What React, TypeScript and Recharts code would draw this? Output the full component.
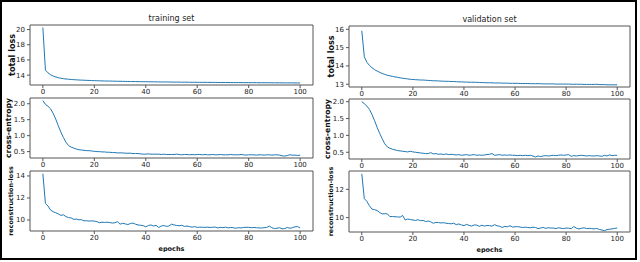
import React from 'react';
import { LineChart, Line, XAxis, YAxis, ReferenceArea } from 'recharts';

// epoch-by-epoch values (epochs 0..100)
const trainTotal = [
  20.26, 14.66, 14.3, 14.05, 13.88, 13.76, 13.66, 13.59, 13.53, 13.49, 13.46, 13.43, 13.4, 13.38, 13.36, 13.34, 13.33, 13.31, 13.3, 13.28,
  13.27, 13.26, 13.25, 13.24, 13.23, 13.22, 13.22, 13.21, 13.2, 13.19, 13.19, 13.18, 13.17, 13.17, 13.16, 13.16, 13.15, 13.15, 13.14, 13.14,
  13.13, 13.13, 13.12, 13.12, 13.11, 13.11, 13.1, 13.1, 13.1, 13.09, 13.09, 13.08, 13.08, 13.08, 13.07, 13.07, 13.07, 13.06, 13.06, 13.06,
  13.05, 13.05, 13.05, 13.05, 13.04, 13.04, 13.04, 13.04, 13.03, 13.03, 13.03, 13.03, 13.03, 13.02, 13.02, 13.02, 13.02, 13.02, 13.01, 13.01,
  13.01, 13.01, 13.01, 13.01, 13.0, 13.0, 13.0, 13.0, 13.0, 12.99, 12.99, 12.99, 12.99, 12.99, 12.98, 12.98, 12.98, 12.98, 12.97, 12.97,
  12.97,
];

const validTotal = [
  15.92, 14.5, 14.2, 14.03, 13.9, 13.8, 13.72, 13.65, 13.59, 13.54, 13.49, 13.46, 13.43, 13.4, 13.38, 13.35, 13.33, 13.31, 13.29, 13.27,
  13.26, 13.25, 13.24, 13.23, 13.23, 13.22, 13.21, 13.2, 13.19, 13.19, 13.18, 13.17, 13.17, 13.16, 13.16, 13.15, 13.15, 13.14, 13.13, 13.13,
  13.12, 13.12, 13.11, 13.11, 13.11, 13.1, 13.1, 13.09, 13.09, 13.08, 13.08, 13.08, 13.07, 13.07, 13.07, 13.06, 13.06, 13.06, 13.05, 13.05,
  13.05, 13.05, 13.04, 13.04, 13.04, 13.04, 13.03, 13.03, 13.03, 13.03, 13.03, 13.02, 13.02, 13.02, 13.02, 13.02, 13.01, 13.01, 13.01, 13.01,
  13.01, 13.01, 13.0, 13.0, 13.0, 13.0, 13.0, 12.99, 12.99, 12.99, 12.99, 12.99, 13.0, 12.98, 12.98, 12.98, 12.97, 12.97, 12.97, 12.97,
  12.97,
];

const trainCE = [
  2.1, 1.98, 1.92, 1.84, 1.7, 1.52, 1.31, 1.11, 0.94, 0.79, 0.69, 0.64, 0.61, 0.58, 0.56, 0.55, 0.54, 0.53, 0.53, 0.52,
  0.51, 0.5, 0.5, 0.49, 0.49, 0.48, 0.48, 0.47, 0.47, 0.46, 0.46, 0.46, 0.45, 0.45, 0.45, 0.44, 0.44, 0.44, 0.43, 0.42,
  0.42, 0.43, 0.42, 0.42, 0.42, 0.42, 0.41, 0.42, 0.41, 0.41, 0.41, 0.41, 0.42, 0.41, 0.4, 0.41, 0.41, 0.4, 0.41, 0.4,
  0.41, 0.41, 0.4, 0.41, 0.4, 0.4, 0.41, 0.4, 0.4, 0.41, 0.4, 0.4, 0.4, 0.41, 0.4, 0.4, 0.4, 0.41, 0.4, 0.39,
  0.4, 0.4, 0.4, 0.39, 0.4, 0.4, 0.39, 0.4, 0.4, 0.39, 0.4, 0.4, 0.39, 0.37, 0.36, 0.38, 0.4, 0.39, 0.39, 0.38,
  0.39,
];

const validCE = [
  2.0, 1.94, 1.87, 1.77, 1.62, 1.44, 1.24, 1.06, 0.9, 0.75, 0.66, 0.62, 0.59, 0.57, 0.55, 0.54, 0.53, 0.52, 0.51, 0.53,
  0.51, 0.5, 0.49, 0.48, 0.47, 0.46, 0.46, 0.49, 0.45, 0.46, 0.44, 0.45, 0.43, 0.45, 0.43, 0.44, 0.43, 0.42, 0.43, 0.41,
  0.42, 0.43, 0.41, 0.42, 0.43, 0.41, 0.42, 0.41, 0.42, 0.43, 0.44, 0.46, 0.41, 0.42, 0.43, 0.41, 0.42, 0.41, 0.42, 0.41,
  0.41, 0.4, 0.41, 0.4, 0.41, 0.4, 0.41, 0.39, 0.36, 0.39, 0.37, 0.39, 0.4, 0.39, 0.4, 0.41, 0.4, 0.41, 0.42, 0.41,
  0.42, 0.43, 0.38, 0.4, 0.39, 0.4, 0.41, 0.4, 0.39, 0.4, 0.39, 0.39, 0.4, 0.39, 0.38, 0.41, 0.39, 0.42, 0.4, 0.41,
  0.41,
];

const trainRecon = [
  14.21, 11.5, 11.27, 10.9, 10.75, 10.66, 10.55, 10.42, 10.47, 10.3, 10.22, 10.18, 10.06, 10.08, 10.02, 10.03, 9.92, 9.93, 9.9, 9.92,
  9.9, 9.85, 9.75, 9.8, 9.78, 9.8, 9.77, 9.72, 9.75, 9.85, 9.62, 9.7, 9.65, 9.58, 9.68, 9.72, 9.62, 9.55, 9.52, 9.48,
  9.38, 9.5, 9.55, 9.45, 9.52, 9.32, 9.45, 9.5, 9.42, 9.45, 9.62, 9.55, 9.5, 9.48, 9.52, 9.42, 9.45, 9.4, 9.35, 9.4,
  9.33, 9.35, 9.34, 9.33, 9.35, 9.32, 9.34, 9.36, 9.28, 9.33, 9.3, 9.35, 9.28, 9.32, 9.3, 9.25, 9.3, 9.28, 9.32, 9.34,
  9.33, 9.3, 9.32, 9.3, 9.28, 9.27, 9.3, 9.32, 9.45, 9.3, 9.22, 9.25, 9.3, 9.2, 9.22, 9.32, 9.25, 9.3, 9.38, 9.4,
  9.28,
];

const validRecon = [
  13.1, 11.34, 11.15, 10.84, 10.6, 10.56, 10.5, 10.36, 10.26, 10.28, 10.26, 10.07, 10.08, 10.06, 10.05, 10.03, 10.15, 9.83, 9.9, 9.86,
  9.83, 9.8, 9.85, 9.78, 9.8, 9.72, 9.76, 9.7, 9.6, 9.66, 9.65, 9.62, 9.64, 9.6, 9.58, 9.56, 9.6, 9.5, 9.55, 9.48,
  9.43, 9.52, 9.45, 9.4, 9.48, 9.47, 9.38, 9.46, 9.4, 9.44, 9.43, 9.4, 9.5, 9.42, 9.38, 9.3, 9.38, 9.35, 9.42, 9.33,
  9.35, 9.36, 9.33, 9.3, 9.32, 9.3, 9.28, 9.32, 9.3, 9.22, 9.26, 9.3, 9.24, 9.28, 9.26, 9.26, 9.22, 9.28, 9.25, 9.22,
  9.26, 9.25, 9.22, 9.37, 9.25, 9.2, 9.24, 9.28, 9.22, 9.24, 9.22, 9.2, 9.23, 9.16, 9.12, 9.07, 9.15, 9.18, 9.2, 9.24,
  9.26,
];

const epochTicks = [0, 20, 40, 60, 80, 100];
const totalTrainTicks = [14, 16, 18, 20];
const totalValidTicks = [13, 14, 15, 16];
const ceTicks = [0.5, 1.0, 1.5, 2.0];
const reconTrainTicks = [10, 12, 14];
const reconValidTicks = [10, 12];

const FONT = '"DejaVu Sans", sans-serif';
const BLUE = '#1f77b4';
const FRAME = '#555';

type PanelProps = {
  values: number[];
  left: number;
  top: number;
  w: number;
  h: number;
  domain: [number, number];
  ticks: number[];
  yLabel: string;
  yLabelSize: number;
  yLabelOffset: number;
  title?: string;
  epochs?: boolean;
  fmt?: (v: number) => string;
};

const Panel = ({ values, left, top, w, h, domain, ticks, yLabel, yLabelSize, yLabelOffset, title, epochs, fmt }: PanelProps) => {
  const data = values.map((v, i) => ({ epoch: i, loss: v }));
  const mt = title ? 16 : 8;
  const xh = epochs ? 21 : 13;
  const tickStyle = { fill: '#222', fontSize: 7, fontFamily: FONT };
  return (
    <div style={{ position: 'absolute', left: left - 30, top: top - mt }}>
      <LineChart
        width={w + 34}
        height={h + mt + xh}
        data={data}
        margin={{ top: mt, right: 4, bottom: 0, left: 0 }}
      >
        <XAxis
          dataKey="epoch"
          type="number"
          domain={[-5, 105]}
          ticks={epochTicks}
          tick={tickStyle}
          tickSize={3}
          tickMargin={1}
          height={xh}
          stroke={FRAME}
          axisLine={false}
          interval={0}
          label={epochs ? { value: 'epochs', position: 'insideBottom', offset: 1, style: { fontSize: 6.5, fontWeight: 'bold', fontFamily: FONT, fill: '#111' } } : undefined}
        />
        <YAxis
          type="number"
          domain={domain}
          allowDataOverflow
          ticks={ticks}
          tick={tickStyle}
          tickSize={3}
          tickMargin={2}
          width={30}
          stroke={FRAME}
          axisLine={false}
          interval={0}
          tickFormatter={fmt}
          label={{ value: yLabel, angle: -90, position: 'insideLeft', offset: yLabelOffset, style: { textAnchor: 'middle', fontSize: yLabelSize, fontWeight: 'bold', fontFamily: FONT, fill: '#111' } }}
        />
        <ReferenceArea
          x1={-5}
          x2={105}
          y1={domain[0]}
          y2={domain[1]}
          fill="none"
          fillOpacity={0}
          stroke={FRAME}
          strokeWidth={1}
          label={title ? { value: title, position: 'top', offset: 4, style: { fontSize: 8, fontFamily: FONT, fill: '#222' } } : undefined}
        />
        <Line type="linear" dataKey="loss" stroke={BLUE} strokeWidth={1} dot={false} isAnimationActive={false} />
      </LineChart>
    </div>
  );
};

const one = (v: number) => v.toFixed(1);

export default function App() {
  return (
    <div style={{ position: 'fixed', left: 0, top: 0, width: 640, height: 262, background: '#fff', overflow: 'hidden' }}>
      <div style={{ position: 'absolute', left: 0, top: 0, width: 633, height: 256, border: '2px solid #000' }} />
      <Panel values={trainTotal} left={30} top={25} w={283} h={60} domain={[12.7, 20.6]} ticks={totalTrainTicks} yLabel="total loss" yLabelSize={8} yLabelOffset={12} title="training set" />
      <Panel values={validTotal} left={349} top={26} w={281} h={61} domain={[12.85, 16.18]} ticks={totalValidTicks} yLabel="total loss" yLabelSize={8} yLabelOffset={12} title="validation set" />
      <Panel values={trainCE} left={30} top={98} w={283} h={60} domain={[0.3, 2.18]} ticks={ceTicks} yLabel="cross-entropy" yLabelSize={7.7} yLabelOffset={8.5} fmt={one} />
      <Panel values={validCE} left={349} top={99} w={281} h={60} domain={[0.3, 2.08]} ticks={ceTicks} yLabel="cross-entropy" yLabelSize={7.7} yLabelOffset={8.5} fmt={one} />
      <Panel values={trainRecon} left={30} top={171} w={283} h={60} domain={[9.0, 14.45]} ticks={reconTrainTicks} yLabel="reconstruction-loss" yLabelSize={6.4} yLabelOffset={11} epochs />
      <Panel values={validRecon} left={349} top={171} w={281} h={61} domain={[8.98, 13.3]} ticks={reconValidTicks} yLabel="reconstruction-loss" yLabelSize={6.4} yLabelOffset={12} epochs />
    </div>
  );
}
